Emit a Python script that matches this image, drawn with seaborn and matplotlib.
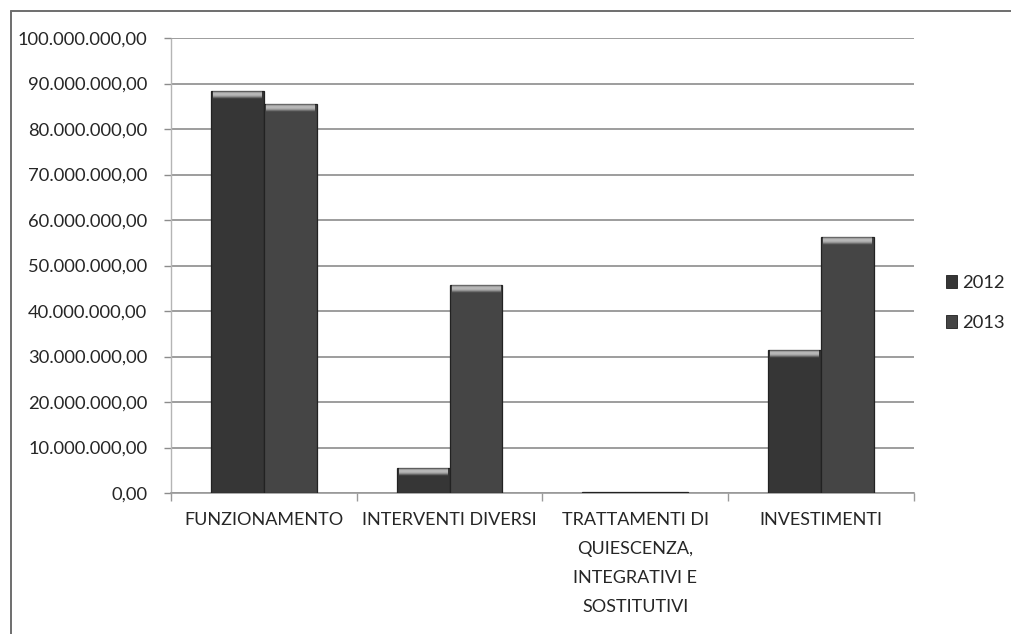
import numpy as np
import pandas as pd
import matplotlib
matplotlib.use("Agg")
import matplotlib.pyplot as plt
from matplotlib.lines import Line2D
from matplotlib.patches import Patch
from matplotlib.ticker import FuncFormatter, MultipleLocator, FixedLocator
import seaborn as sns

# Spending by function, 2012 vs 2013 (euro)
categories = [
    "FUNZIONAMENTO",
    "INTERVENTI DIVERSI",
    "TRATTAMENTI DI\nQUIESCENZA,\nINTEGRATIVI E\nSOSTITUTIVI",
    "INVESTIMENTI",
]
years = ["2012", "2013"]
values_2012 = [88_400_000, 5_500_000, 300_000, 31_400_000]
values_2013 = [85_600_000, 45_700_000, 300_000, 56_300_000]
year_colors = ["#363636", "#454545"]

df = pd.DataFrame({
    "categoria": categories * 2,
    "anno": [years[0]] * len(categories) + [years[1]] * len(categories),
    "importo": values_2012 + values_2013,
})

sns.set_theme(style="white")
plt.rcParams["font.family"] = ["Lato", "DejaVu Sans"]

fig = plt.figure(figsize=(10.11, 6.34), dpi=100)
ax = fig.add_axes([0.169, 0.2224, 0.735, 0.7176])

sns.barplot(
    data=df, x="categoria", y="importo", hue="anno",
    order=categories, hue_order=years, palette=year_colors,
    width=0.57, gap=0, saturation=1, ax=ax,
    edgecolor="#222222", linewidth=0.9, legend=False, zorder=3,
)

# bevelled highlight fading down from the top edge of each bar
top_band = 2_000_000
for patch in ax.patches:
    x0 = patch.get_x()
    w = patch.get_width()
    h = patch.get_height()
    if h <= top_band * 1.2:
        continue
    base = np.array(matplotlib.colors.to_rgb(patch.get_facecolor()))
    light = np.array([0.72, 0.72, 0.72])
    t = np.linspace(0, 1, 32)
    weight = np.clip(1.25 * np.sin(np.pi * np.clip(t * 1.15, 0, 1)) ** 0.7, 0, 1)
    weight[t > 0.45] *= np.linspace(1, 0, (t > 0.45).sum())
    img = light[None, :] * weight[:, None] + base[None, :] * (1 - weight[:, None])
    img = np.repeat(img[:, None, :], 8, axis=1)
    ax.imshow(img, extent=[x0 + w * 0.04, x0 + w * 0.96, h - top_band, h - top_band * 0.04],
              aspect="auto", origin="upper", zorder=4, interpolation="bilinear")

ax.set_ylim(0, 100_000_000)
ax.set_xlim(-0.5, len(categories) - 0.5)


def it_format(v, pos):
    s = f"{v:,.2f}"
    return s.replace(",", "X").replace(".", ",").replace("X", ".")


ax.yaxis.set_major_locator(MultipleLocator(10_000_000))
ax.yaxis.set_major_formatter(FuncFormatter(it_format))
ax.grid(axis="y", color="#8c8c8c", linewidth=1.2, zorder=0)
ax.grid(axis="x", visible=False)

ax.set_xlabel("")
ax.set_ylabel("")
ax.set_xticks(range(len(categories)))
ax.set_xticklabels(categories, linespacing=1.98)
ax.xaxis.set_minor_locator(FixedLocator(np.arange(-0.5, len(categories), 1.0)))

ax.tick_params(axis="y", which="major", length=5, width=1, color="#8c8c8c",
               pad=12, labelsize=13.2, labelcolor="#262626", left=True)
ax.tick_params(axis="x", which="major", length=0, pad=14,
               labelsize=13, labelcolor="#262626", bottom=True)
ax.tick_params(axis="x", which="minor", length=6, width=1, color="#9a9a9a", bottom=True)

for side in ["top", "right"]:
    ax.spines[side].set_visible(False)
ax.spines["left"].set_color("#b5b5b5")
ax.spines["left"].set_linestyle((0, (1, 1)))
ax.spines["left"].set_linewidth(1)
ax.spines["bottom"].set_color("#9a9a9a")
ax.spines["bottom"].set_linewidth(1.2)

handles = [Patch(facecolor=c, edgecolor="#1e1e1e", linewidth=0.6) for c in year_colors]
fig.legend(handles, years, loc="center", bbox_to_anchor=(0.965, 0.522),
           frameon=False, fontsize=13.2, handlelength=0.6, handleheight=0.75,
           handletextpad=0.3, labelspacing=1.3, borderpad=0,
           labelcolor="#262626")

# chart-area frame (left and top edges)
fig.add_artist(Line2D([0.0104, 0.0104], [0.0, 0.983], transform=fig.transFigure,
                      color="#6e6e6e", linewidth=1.4))
fig.add_artist(Line2D([0.0104, 1.0], [0.983, 0.983], transform=fig.transFigure,
                      color="#6e6e6e", linewidth=1.4))

fig.savefig("out.png", dpi=100, facecolor="white")
